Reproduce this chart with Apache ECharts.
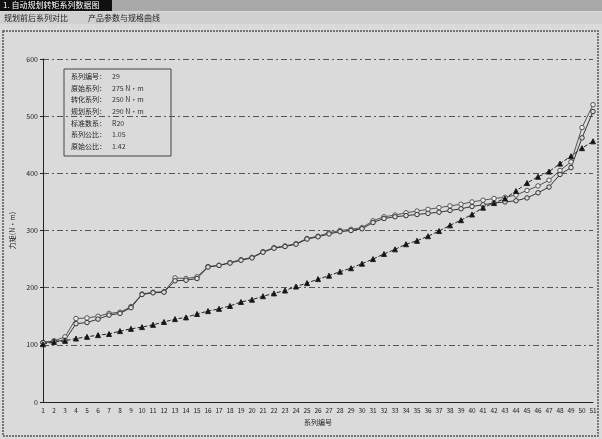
<!DOCTYPE html>
<html><head><meta charset="utf-8">
<script src="https://cdn.jsdelivr.net/npm/echarts@6/dist/echarts.min.js"></script>
<style>html,body{margin:0;padding:0;background:#dadada}#c{width:602px;height:439px}</style>
</head><body><div id="c"></div>
<script>
const categories = Array.from({length:51},(_,i)=>String(i+1));
const yTicks = [0,100,200,300,400,500,600];
const originalSeries = [104,107,114,146,147,150,155,157,167,189,192,193,217,216,219,237,239,244,249,253,263,270,273,277,286,290,296,300,302,305,317,324,327,331,334,337,340,343,346,350,353,356,358,362,370,378,388,405,420,480,520];
const convertedSeries = [104,106,108,137,139,145,152,155,165,188,191,192,212,213,216,236,239,243,248,252,262,269,272,276,285,289,294,298,300,303,314,321,324,326,328,330,332,335,338,342,345,348,350,352,357,366,376,398,410,462,508];
const plannedSeries = [101,105,107,111,114,117,119,124,128,131,135,140,145,148,154,159,163,168,175,179,185,190,195,202,208,215,221,228,234,242,250,259,267,276,282,290,299,309,318,328,340,348,356,369,383,394,403,417,430,444,456];
const infoLabels = ['系列编号：','原始系列：','转化系列：','规划系列：','标准数系：','系列公比：','原始公比：'];
const infoValues = ['29','275 N·m','250 N·m','290 N·m','R20','1.05','1.42'];

const chart = echarts.init(document.getElementById('c'));
const F = '"Noto Sans CJK SC", "DejaVu Sans", sans-serif';
const graphics = [
  {type:'rect', shape:{x:0,y:0,width:602,height:11}, style:{fill:'#a8a8a8'}},
  {type:'rect', shape:{x:0,y:0,width:112,height:11}, style:{fill:'#101010'}},
  {type:'text', left:3, top:1, style:{text:'1. 自动规划转矩系列数据图', fill:'#fff', font:'8px '+F}},
  {type:'rect', shape:{x:0,y:12,width:602,height:12}, style:{fill:'#d0d0d0'}},
  {type:'text', left:4, top:14, style:{text:'规划前后系列对比', fill:'#222', font:'8px '+F}},
  {type:'text', left:88, top:14, style:{text:'产品参数与规格曲线', fill:'#222', font:'8px '+F}},
  {type:'rect', shape:{x:3,y:31,width:595,height:405}, style:{fill:'none', stroke:'#555', lineWidth:1.5, lineDash:[2,1]}},
  {type:'rect', shape:{x:64,y:69,width:107,height:87}, style:{fill:'none', stroke:'#444', lineWidth:1}}
];
infoLabels.forEach((t,i)=>{
  graphics.push({type:'text', left:71, top:73+i*11.6, style:{text:t, fill:'#222', font:'7px '+F}});
  graphics.push({type:'text', left:112, top:73+i*11.6, style:{text:infoValues[i], fill:'#333', font:'7px '+F}});
});
const sym = (name,data,symbol,size,fill,dash,color)=>({
  name, type:'line', data, symbol, symbolSize:size,
  itemStyle:{color:fill, borderColor:color, borderWidth:1},
  lineStyle:{color, width:1, type:dash}, emphasis:{disabled:true}
});
chart.setOption({
  animation:false,
  backgroundColor:'#dadada',
  textStyle:{fontFamily:F},
  graphic:graphics,
  grid:{left:43,right:9,top:59,bottom:37},
  xAxis:{type:'category', data:categories, boundaryGap:false,
    name:'系列编号', nameLocation:'middle', nameGap:17, nameTextStyle:{fontSize:7,color:'#222'},
    axisLine:{lineStyle:{color:'#222'}}, axisTick:{show:false},
    axisLabel:{interval:0, fontSize:6.5, color:'#222', margin:5},
    splitLine:{show:false}},
  yAxis:{type:'value', min:yTicks[0], max:yTicks[yTicks.length-1], interval:100,
    name:'力矩(N·m)', nameLocation:'middle', nameGap:22, nameTextStyle:{fontSize:7,color:'#222'},
    axisLine:{show:true, lineStyle:{color:'#222'}}, axisTick:{show:true,length:3,lineStyle:{color:'#222'}},
    axisLabel:{fontSize:7, color:'#222', margin:5},
    splitLine:{lineStyle:{color:'#555', type:[6,3,2,3]}}},
  series:[
    sym('原始系列', originalSeries, 'circle', 4.5, '#eee', 'solid', '#555'),
    sym('转化系列', convertedSeries, 'circle', 4.5, '#ddd', 'solid', '#333'),
    sym('规划系列', plannedSeries, 'triangle', 5, '#111', [4,2], '#222')
  ]
});
</script></body></html>
